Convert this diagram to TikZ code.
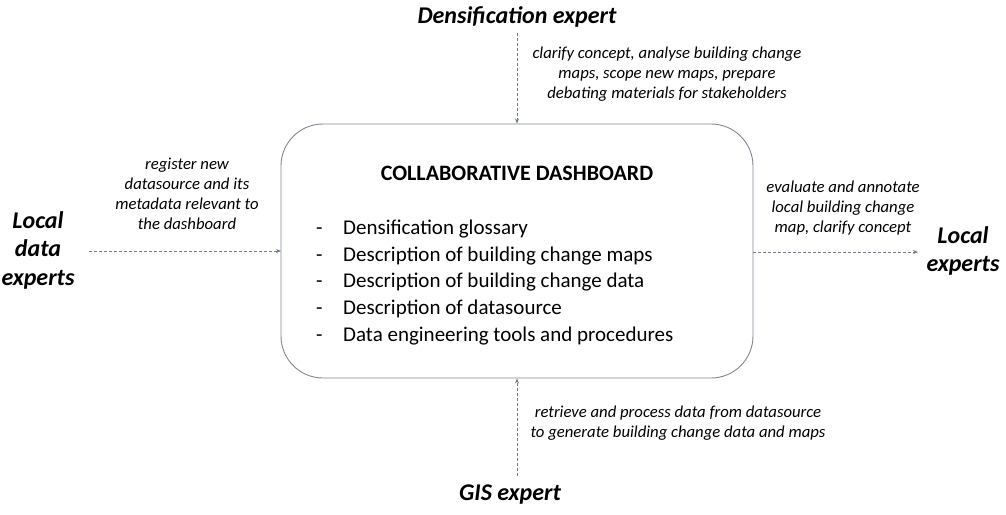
\documentclass[tikz,border=0pt]{standalone}
\usepackage{fontspec}
\setmainfont{Carlito}
\usetikzlibrary{arrows.meta}
\definecolor{boxline}{HTML}{7F8793}
\definecolor{arrline}{HTML}{6F7B8C}
\begin{document}
\begin{tikzpicture}[x=1pt,y=-1pt,
  actor/.style={font=\fontsize{24}{28.5}\selectfont\bfseries\itshape, align=center, inner sep=0pt},
  note/.style={font=\fontsize{16.7}{20.2}\selectfont\itshape, align=center, inner sep=0pt},
  flow/.style={draw=arrline, dashed, dash pattern=on 3pt off 2pt, line width=0.8pt, -{Stealth[length=5pt,width=4pt]}}]
\useasboundingbox (0,0) rectangle (1006,514);
\node[draw=boxline, line width=0.9pt, rounded corners=42pt, minimum width=472pt, minimum height=254pt, inner sep=0pt] (box) at (517,251) {};
\node[font=\fontsize{22}{26}\selectfont\bfseries, inner sep=0pt] (title) at (517,173) {COLLABORATIVE DASHBOARD};
\node[anchor=west, inner sep=0pt, font=\fontsize{21}{26.8}\selectfont, align=left] (list) at (316,282.5)
  {\makebox[27pt][l]{-}Densification glossary\\
   \makebox[27pt][l]{-}Description of building change maps\\
   \makebox[27pt][l]{-}Description of building change data\\
   \makebox[27pt][l]{-}Description of datasource\\
   \makebox[27pt][l]{-}Data engineering tools and procedures};
\node[actor] (dens) at (517,17) {Densification expert};
\node[actor] (gis) at (510,495) {GIS expert};
\node[actor] (ldata) at (38,250) {Local\\data\\experts};
\node[actor] (lexp) at (963,251) {Local\\experts};
\coordinate (dtop) at (517,33);
\coordinate (gbot) at (517,476);
\coordinate (lstart) at (89,251);
\coordinate (lend) at (281,251);
\coordinate (rstart) at (753,252);
\coordinate (rend) at (918,252);
\draw[flow] (dtop) -- (box.north -| dtop);
\draw[flow] (gbot) -- (box.south -| gbot);
\draw[flow] (lstart) -- (lend);
\draw[flow] (rstart) -- (rend);
\node[note] (ntop) at (667,74) {clarify concept, analyse building change\\maps, scope new maps, prepare\\debating materials for stakeholders};
\node[note] (nleft) at (187,194) {register new\\datasource and its\\metadata relevant to\\the dashboard};
\node[note] (nright) at (843,208) {evaluate and annotate\\local building change\\map, clarify concept};
\node[note] (nbot) at (678,423) {retrieve and process data from datasource\\to generate building change data and maps};
\end{tikzpicture}
\end{document}
